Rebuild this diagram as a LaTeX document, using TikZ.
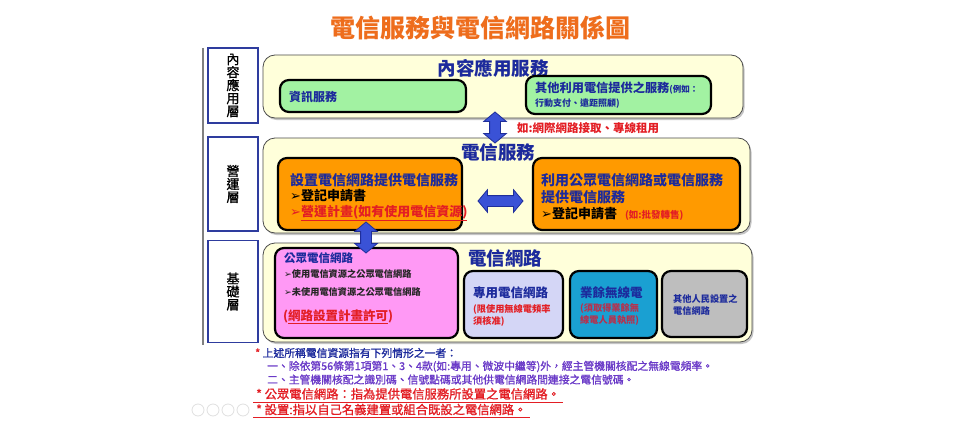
\documentclass[tikz,border=0pt]{standalone}
\usepackage{fontspec}
\setmainfont{Noto Sans CJK TC}
\newfontfamily\semib{Noto Sans CJK TC}[FakeBold=1.2]
\newfontfamily\dvfont{DejaVu Sans}
\usetikzlibrary{shapes.arrows,shadows}
\definecolor{ttl}{HTML}{EE6D1C}
\definecolor{navy}{HTML}{1C2A9C}
\definecolor{rd}{HTML}{E31E24}
\definecolor{purp}{HTML}{6A3AC8}
\definecolor{panelfill}{HTML}{FFFFDA}
\definecolor{grn}{HTML}{A2F2A2}
\definecolor{org}{HTML}{FF9A00}
\definecolor{pnk}{HTML}{FF99F5}
\definecolor{lav}{HTML}{D4D6F6}
\definecolor{tea}{HTML}{1AA0D2}
\definecolor{gry}{HTML}{BEBEBE}
\definecolor{arrfill}{HTML}{3A52D6}
\definecolor{arrdraw}{HTML}{1F2E9A}
\definecolor{layerline}{HTML}{2E3C9E}
\definecolor{tealred}{HTML}{B8304C}
\newcommand\myarr{{\dvfont ➢}}
\newcommand\fs[1]{\fontsize{#1}{#1}\selectfont}
\begin{document}
\begin{tikzpicture}[x=1pt,y=-1pt,
  panel/.style={draw=black!70, line width=0.8pt, rounded corners=12pt, fill=panelfill,
    drop shadow={shadow xshift=1.5pt, shadow yshift=-2pt, fill=black!45, opacity=0.5}},
  ibox/.style={draw=black, line width=2.2pt, rounded corners=9pt, inner sep=0pt},
  layer/.style={draw=layerline, line width=1.8pt, fill=white, inner sep=0pt, align=center,
    font=\semib\fs{13}\linespread{1.05}},
  txt/.style={inner sep=0pt, anchor=west},
  ptitle/.style={inner sep=0pt, text=navy, font=\fs{18.5}\bfseries},
  bigarrow/.style={shape=double arrow, fill=arrfill, draw=arrdraw, line width=0.8pt,
    double arrow head extend=6pt, inner sep=5pt, double arrow tip angle=100},
  icon/.style={draw=black!12, line width=0.8pt, circle, minimum size=12pt, inner sep=0pt}
]
\useasboundingbox[fill=white] (0,0) rectangle (960,420);

% title
\node[inner sep=0pt, text=ttl, font=\fs{25}\bfseries] (title) at (480,28) {電信服務與電信網路關係圖};

% left rule and layer boxes
\coordinate (ruletop) at (203,48);
\coordinate (rulebot) at (203,345);
\draw[black!50, line width=1.2pt] (ruletop) -- (rulebot);
\node[layer, minimum width=50pt, minimum height=75pt] (L1) at (233,85.5) {內\\容\\應\\用\\層};
\node[layer, minimum width=50pt, minimum height=94pt] (L2) at (233,184) {營\\運\\層};
\node[layer, minimum width=50pt, minimum height=102pt] (L3) at (233,291.5) {基\\礎\\層};

% panels
\node[panel, minimum width=480pt, minimum height=63pt] (P1) at (503,86.5) {};
\node[panel, minimum width=487pt, minimum height=95pt] (P2) at (506.5,185.5) {};
\node[panel, minimum width=489pt, minimum height=99pt] (P3) at (507.5,292.5) {};

% panel 1
\node[ptitle] (P1t) at (493,68) {內容應用服務};
\node[ibox, fill=grn, minimum width=186pt, minimum height=32pt] (G1) at (373,96) {};
\node[ibox, fill=grn, minimum width=185pt, minimum height=38pt] (G2) at (618.5,95) {};
\node[txt, text=navy, font=\fs{12}\bfseries] (G1t) at (289,97) {資訊服務};
\node[txt, text=navy, font=\fs{12.2}\bfseries] (G2a) at (535,88) {其他利用電信提供之服務{\fs{8.5}(例如：}};
\node[txt, text=navy, font=\fs{9}\bfseries] (G2b) at (535,104) {行動支付、遠距照顧)};

% arrow between content and operation
\node[bigarrow, rotate=90, minimum height=31pt] (A1) at (495,127.5) {};
\node[txt, text=rd, font=\fs{11.5}\bfseries] (A1t) at (517,128) {如:網際網路接取、專線租用};

% panel 2
\node[ptitle] (P2t) at (498,152) {電信服務};
\node[ibox, fill=org, minimum width=184pt, minimum height=72pt] (O1) at (370,194) {};
\node[ibox, fill=org, minimum width=207pt, minimum height=72pt] (O2) at (636.5,194) {};
\node[txt, text=navy, font=\fs{14}\bfseries] (O1a) at (290,180) {設置電信網路提供電信服務};
\node[txt, text=black, font=\fs{13}\bfseries] (O1b) at (290,196) {\myarr 登記申請書};
\node[txt, text=rd, font=\fs{13}\bfseries] (O1c) at (290,213) {\myarr\underline{營運計畫(如有使用電信資源)}};
\node[txt, text=navy, font=\fs{14}\bfseries] (O2a) at (541,180) {利用公眾電信網路或電信服務};
\node[txt, text=navy, font=\fs{14}\bfseries] (O2b) at (541,197) {提供電信服務};
\node[txt, text=black, font=\fs{13}\bfseries] (O2c) at (541,214) {\myarr 登記申請書\hspace{8pt}{\color{rd}\fs{9.5}(如:批發轉售)}};
\node[bigarrow, minimum height=45pt] (A2) at (500.5,201) {};

% panel 3
\node[ptitle] (P3t) at (505,258) {電信網路};
\node[ibox, fill=pnk, minimum width=183pt, minimum height=90pt] (K1) at (366.5,293) {};
\node[ibox, fill=lav, minimum width=99pt, minimum height=67pt] (K2) at (513.5,304.5) {};
\node[ibox, fill=tea, minimum width=87pt, minimum height=67pt] (K3) at (613.5,304.5) {};
\node[ibox, fill=gry, minimum width=85pt, minimum height=66pt] (K4) at (704.5,304) {};

% arrow between operation and base
\node[bigarrow, rotate=90, minimum height=31pt] (A3) at (366,237.5) {};

\node[txt, text=navy, font=\fs{11.5}\bfseries] (K1a) at (284,258) {公眾電信網路};
\node[txt, text=black!85, font=\fs{9.2}\bfseries] (K1b) at (284,274) {\myarr 使用電信資源之公眾電信網路};
\node[txt, text=black!85, font=\fs{9.2}\bfseries] (K1c) at (284,292) {\myarr 未使用電信資源之公眾電信網路};
\node[txt, text=rd, font=\fs{12.5}\bfseries] (K1d) at (283,317) {(\underline{網路設置計畫許可})};

\node[txt, text=navy, font=\fs{12.5}\bfseries] (K2a) at (473,293) {專用電信網路};
\node[txt, text=rd, font=\fs{9.2}\bfseries] (K2b) at (473,309) {(限使用無線電頻率};
\node[txt, text=rd, font=\fs{9.2}\bfseries] (K2c) at (473,321) {須核准)};

\node[txt, text=navy, font=\fs{12.5}\bfseries] (K3a) at (580,293) {業餘無線電};
\node[txt, text=tealred, font=\fs{9.2}\bfseries] (K3b) at (580,308) {(須取得業餘無};
\node[txt, text=tealred, font=\fs{9.2}\bfseries] (K3c) at (580,320) {線電人員執照)};

\node[txt, text=navy, font=\fs{9.2}\bfseries] (K4a) at (673,299) {其他人民設置之};
\node[txt, text=navy, font=\fs{9.2}\bfseries] (K4b) at (673,311) {電信網路};

% notes
\node[txt, text=navy, font=\semib\fs{10.8}] (N1) at (255,353) {{\color{rd}*} 上述所稱電信資源指有下列情形之一者：};
\node[txt, text=purp, font=\semib\fs{10.8}] (N2) at (267,366.5) {一、除依第56條第1項第1、3、4款(如:專用、微波中繼等)外，經主管機關核配之無線電頻率。};
\node[txt, text=purp, font=\semib\fs{10.8}] (N3) at (267,379.5) {二、主管機關核配之識別碼、信號點碼或其他供電信網路間連接之電信號碼。};
\node[txt, text=rd, font=\semib\fs{12.3}] (N4) at (256,394) {* 公眾電信網路：指為提供電信服務所設置之電信網路。};
\node[txt, text=rd, font=\semib\fs{12.3}] (N5) at (256,409.5) {* 設置:指以自己名義建置或組合既設之電信網路。};
\draw[rd, line width=0.9pt] ([xshift=-3pt,yshift=-2.5pt]N4.south west) -- ([xshift=3pt,yshift=-2.5pt]N4.south east);
\draw[rd, line width=0.9pt] ([xshift=-3pt,yshift=-2.5pt]N5.south west) -- ([xshift=3pt,yshift=-2.5pt]N5.south east);

% faint slide controls
\node[icon] (I1) at (198,410) {};
\node[icon] (I2) at (213,410) {};
\node[icon] (I3) at (228,410) {};
\node[icon] (I4) at (243,410) {};
\end{tikzpicture}
\end{document}
